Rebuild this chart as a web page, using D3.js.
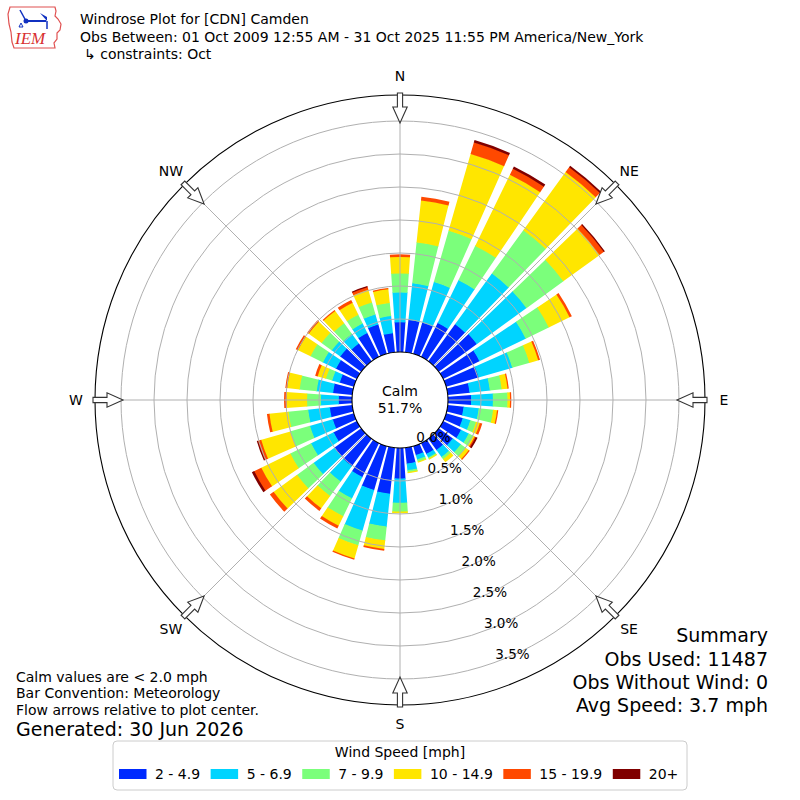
<!DOCTYPE html>
<html><head><meta charset="utf-8">
<script src="https://cdn.jsdelivr.net/npm/d3@7/dist/d3.min.js"></script>
<style>
body{margin:0;background:#fff}
svg{display:block}
text{font-family:"DejaVu Sans",sans-serif;fill:#000}
</style>
</head><body>
<svg id="chart" width="800" height="800"></svg>
<script>
// ---------------- DATA ----------------
const directions = [0,10,20,30,40,50,60,70,80,90,100,110,120,130,140,150,160,170,
                    180,190,200,210,220,230,240,250,260,270,280,290,300,310,320,330,340,350];
const speedBins = ["2 - 4.9","5 - 6.9","7 - 9.9","10 - 14.9","15 - 19.9","20+"];
const binColors = ["#002aff","#00d4ff","#7bff7b","#ffe600","#ff4900","#800000"];
// frequency (%) for each direction, per speed bin
const s2to4 =  [0.46,0.50,0.50,0.58,0.70,0.72,0.62,0.52,0.34,0.36,0.25,0.27,0.31,0.27,0.22,0.19,0.15,0.25,
                0.47,0.71,0.70,0.58,0.52,0.51,0.40,0.34,0.35,0.21,0.30,0.23,0.36,0.40,0.34,0.41,0.47,0.30];
const s5to6 =  [0.45,0.56,0.64,0.72,0.95,0.93,0.78,0.53,0.31,0.33,0.23,0.12,0.13,0.15,0.13,0.06,0.07,0.10,
                0.37,0.50,0.64,0.36,0.29,0.39,0.38,0.36,0.33,0.27,0.25,0.12,0.22,0.16,0.18,0.16,0.16,0.26];
const s7to9 =  [0.29,0.62,0.81,0.58,0.81,0.69,0.39,0.27,0.18,0.22,0.22,0.09,0.08,0.09,0.04,0.02,0.03,0.03,
                0.13,0.21,0.23,0.30,0.27,0.31,0.35,0.31,0.30,0.21,0.26,0.10,0.21,0.19,0.20,0.15,0.19,0.20];
const s10to14 =[0.25,0.64,1.21,1.20,1.09,0.68,0.35,0.14,0.09,0.04,0.06,0.06,0.02,0.06,0.05,0.01,0.01,0.01,
                0.02,0.13,0.21,0.16,0.23,0.44,0.49,0.46,0.29,0.31,0.19,0.13,0.21,0.24,0.23,0.20,0.20,0.21];
const s15to19 =[0.03,0.05,0.18,0.10,0.09,0.08,0.03,0.02,0.01,0.01,0.01,0.03,0.02,0.01,0.00,0.00,0.00,0.00,
                0.00,0.02,0.01,0.04,0.04,0.06,0.12,0.05,0.03,0.03,0.02,0.03,0.03,0.02,0.01,0.04,0.04,0.01];
const s20plus =[0.00,0.00,0.03,0.03,0.02,0.01,0.00,0.00,0.00,0.00,0.00,0.00,0.02,0.00,0.00,0.00,0.00,0.00,
                0.00,0.00,0.00,0.00,0.00,0.00,0.03,0.01,0.00,0.00,0.00,0.00,0.00,0.00,0.00,0.00,0.01,0.00];
const radialTicks = [0,0.5,1.0,1.5,2.0,2.5,3.0,3.5];
const radialTickLabels = ["0.0%","0.5%","1.0%","1.5%","2.0%","2.5%","3.0%","3.5%"];
const compass = ["N","NE","E","SE","S","SW","W","NW"];
const compassDeg = [0,45,90,135,180,225,270,315];
const calmPct = "51.7%";
const titleLines = ["Windrose Plot for [CDN] Camden",
  "Obs Between: 01 Oct 2009 12:55 AM - 31 Oct 2025 11:55 PM America/New_York",
  "\u21b3 constraints: Oct"];
const noteLines = ["Calm values are < 2.0 mph","Bar Convention: Meteorology","Flow arrows relative to plot center."];
const generated = "Generated: 30 Jun 2026";
const summaryLines = ["Summary","Obs Used: 11487","Obs Without Wind: 0","Avg Speed: 3.7 mph"];

// ---------------- SETUP ----------------
const svg = d3.select("#chart");
const cx = 400, cy = 400;
const rScale = d3.scaleLinear().domain([0, 3.894]).range([48, 305]);
const aScale = d3.scaleLinear().domain([0, 360]).range([0, 2*Math.PI]);

const series = [s2to4,s5to6,s7to9,s10to14,s15to19,s20plus];
const rows = directions.map((d,i)=>{ const o={dir:d}; speedBins.forEach((k,j)=>o[k]=series[j][i]); return o; });
const stacked = d3.stack().keys(speedBins)(rows);

const halfOpen = aScale(4); // bars span 8 of every 10 degrees
function barPath(theta, R0, R1){
  const s = theta - Math.PI/2, a = halfOpen;
  const p = d3.path();
  p.moveTo(cx + R0*Math.cos(s-a), cy + R0*Math.sin(s-a));
  p.lineTo(cx + R1*Math.cos(s-a), cy + R1*Math.sin(s-a));
  p.arc(cx, cy, R1, s-a, s+a);
  p.lineTo(cx + R0*Math.cos(s+a), cy + R0*Math.sin(s+a));
  p.arc(cx, cy, R0, s+a, s-a, true);
  p.closePath();
  return p.toString();
}

// ---------------- BARS ----------------
const gBars = svg.append("g");
stacked.forEach((layer, li)=>{
  layer.forEach((seg, di)=>{
    if (seg[1]-seg[0] <= 0) return;
    const R0 = rScale(seg[0]) - (li>0 ? 0.6 : 0);
    const R1 = rScale(seg[1]);
    gBars.append("path")
      .attr("d", barPath(aScale(directions[di]), R0, R1))
      .attr("fill", binColors[li]);
  });
});

// ---------------- GRID ----------------
const gGrid = svg.append("g").attr("fill","none").attr("stroke","#b0b0b0").attr("stroke-width",1);
radialTicks.slice(1).forEach(t=>{
  gGrid.append("circle").attr("cx",cx).attr("cy",cy).attr("r",rScale(t));
});
compassDeg.forEach(d=>{
  const a = aScale(d);
  gGrid.append("line")
    .attr("x1", cx + rScale(0)*Math.sin(a)).attr("y1", cy - rScale(0)*Math.cos(a))
    .attr("x2", cx + rScale(3.894)*Math.sin(a)).attr("y2", cy - rScale(3.894)*Math.cos(a));
});
svg.append("circle").attr("cx",cx).attr("cy",cy).attr("r",rScale(3.894))
  .attr("fill","none").attr("stroke","#000").attr("stroke-width",1.1);
svg.append("circle").attr("cx",cx).attr("cy",cy).attr("r",rScale(0))
  .attr("fill","#fff").attr("stroke","#000").attr("stroke-width",1.1);
svg.append("text").attr("x",cx).attr("y",cy-4).attr("text-anchor","middle")
  .style("font-size","14px").text("Calm");
svg.append("text").attr("x",cx).attr("y",cy+13).attr("text-anchor","middle")
  .style("font-size","14px").text(calmPct);

radialTicks.forEach((t,i)=>{
  const R = rScale(t), a = aScale(160);
  svg.append("text")
    .attr("x", cx + R*Math.sin(a) + 17)
    .attr("y", cy - R*Math.cos(a) - 8)
    .attr("text-anchor","middle").attr("dominant-baseline","central")
    .style("font-size","13.5px").text(radialTickLabels[i]);
});

compassDeg.forEach((d,i)=>{
  const a = aScale(d), R = 324;
  svg.append("text").attr("x", cx + R*Math.sin(a)).attr("y", cy - R*Math.cos(a))
    .attr("text-anchor","middle").attr("dominant-baseline","central")
    .style("font-size","14px").text(compass[i]);
  const pts = [[-2.6,-307],[2.6,-307],[2.6,-293],[7.2,-293],[0,-277],[-7.2,-293],[-2.6,-293]];
  svg.append("polygon")
    .attr("transform",`translate(${cx},${cy}) rotate(${d})`)
    .attr("points", pts.map(p=>p.join(",")).join(" "))
    .attr("fill","#fff").attr("stroke","#333").attr("stroke-width",1.1);
});

// ---------------- TITLES ----------------
const tY = [24,42,59];
titleLines.forEach((t,i)=>{
  svg.append("text").attr("x", i===2 ? 84 : 80).attr("y",tY[i]).style("font-size","14px").text(t);
});
const logo = svg.append("g");
logo.append("path")
  .attr("d","M10,7 L55,7 L56,11 L55,16 L58,19 L61,24 L60,30 L57,33 L57,39 L54,43 L55,48 L14,48 L12,42 L11,32 L9,24 L8,14 Z")
  .attr("fill","none").attr("stroke","#e05050").attr("stroke-width",1.2);
logo.append("line").attr("x1",26).attr("y1",21).attr("x2",46).attr("y2",21).attr("stroke","#1030c0").attr("stroke-width",2);
logo.append("circle").attr("cx",26).attr("cy",21).attr("r",2.5).attr("fill","#1030c0");
logo.append("line").attr("x1",26).attr("y1",21).attr("x2",20).attr("y2",10).attr("stroke","#1030c0").attr("stroke-width",1.5);
logo.append("path").attr("d","M40,13 L47,17 L47,21 Z").attr("fill","#1030c0");
logo.append("line").attr("x1",47).attr("y1",21).attr("x2",47).attr("y2",29).attr("stroke","#1030c0").attr("stroke-width",1.5);
logo.append("path").attr("d","M19,27 l2,-4 l2,4 z").attr("fill","none").attr("stroke","#1030c0");
logo.append("text").attr("x",15).attr("y",44)
  .style("font-family","'Liberation Serif',serif").style("font-style","italic")
  .style("font-size","17px").style("fill","#d83030").text("IEM");

// ---------------- NOTES ----------------
const nY = [682,698,715];
noteLines.forEach((t,i)=>{
  svg.append("text").attr("x",16).attr("y",nY[i]).style("font-size","14px").text(t);
});
svg.append("text").attr("x",16).attr("y",736).style("font-size","19px").text(generated);
const sY = [642,666,689,712];
summaryLines.forEach((t,i)=>{
  svg.append("text").attr("x",768).attr("y",sY[i]).attr("text-anchor","end").style("font-size","19px").text(t);
});

// ---------------- LEGEND ----------------
const lg = svg.append("g");
lg.append("rect").attr("x",113).attr("y",741).attr("width",574).attr("height",49).attr("rx",4)
  .attr("fill","#fff").attr("stroke","#cccccc").attr("stroke-width",1);
lg.append("text").attr("x",400).attr("y",757).attr("text-anchor","middle").style("font-size","14px").text("Wind Speed [mph]");
let lx = 119;
speedBins.forEach((b,i)=>{
  lg.append("rect").attr("x",lx).attr("y",769).attr("width",27.5).attr("height",10).attr("fill",binColors[i]);
  const t = lg.append("text").attr("x",lx+27.5+8.5).attr("y",779).style("font-size","14px").text(b);
  lx = lx + 27.5 + 8.5 + t.node().getComputedTextLength() + 10.5;
});
</script>
</body></html>
